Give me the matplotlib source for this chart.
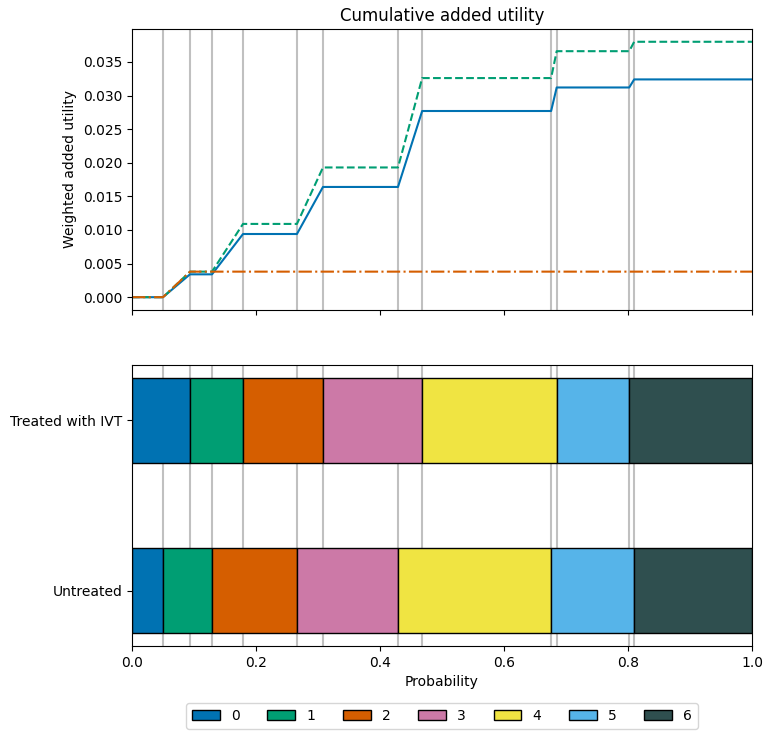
import numpy as np
import matplotlib
matplotlib.use('Agg')
import matplotlib.pyplot as plt
from matplotlib.patches import Patch

# bands
bands = ['0', '1', '2', '3', '4', '5', '6']
colours = ['#0072B2', '#009E73', '#D55E00', '#CC79A7', '#F0E442', '#56B4E9', '#2F4F4F']
rows = ['Untreated', 'Treated with IVT']
prop_untreated = [0.050, 0.079, 0.137, 0.163, 0.247, 0.134, 0.190]
prop_treated = [0.0935, 0.0855, 0.129, 0.160, 0.217, 0.117, 0.198]

# cumulative added utility at each boundary
x_points = [0, 0.050, 0.0935, 0.129, 0.179, 0.266, 0.308, 0.429, 0.468, 0.676, 0.685, 0.802, 0.810, 1.0]
util_blue = [0, 0, 0.0034, 0.0034, 0.0094, 0.0094, 0.0164, 0.0164, 0.0277, 0.0277, 0.0312, 0.0312, 0.0324, 0.0324]
util_green = [0, 0, 0.0038, 0.0038, 0.0109, 0.0109, 0.0193, 0.0193, 0.0326, 0.0326, 0.0366, 0.0366, 0.0380, 0.0380]
util_orange = [0, 0, 0.0038, 0.0038, 0.0038, 0.0038, 0.0038, 0.0038, 0.0038, 0.0038, 0.0038, 0.0038, 0.0038, 0.0038]

fig, (ax1, ax2) = plt.subplots(2, 1, figsize=(7.73, 7.38), dpi=100, sharex=True)
fig.subplots_adjust(left=0.1708, right=0.9728, top=0.9607, bottom=0.1247, hspace=0.196)

cum_u = np.cumsum(prop_untreated)[:-1]
cum_t = np.cumsum(prop_treated)[:-1]
for x in np.concatenate([cum_u, cum_t]):
    ax1.axvline(x, color='silver', lw=1.5, zorder=0)
    ax2.axvline(x, color='silver', lw=1.5, zorder=0)

ax1.plot(x_points, util_blue, color='#0072B2', lw=1.5)
ax1.plot(x_points, util_green, color='#009E73', lw=1.5, ls='--')
ax1.plot(x_points, util_orange, color='#D55E00', lw=1.5, ls='-.')
ax1.set_ylabel('Weighted added utility')
ax1.set_title('Cumulative added utility')
ax1.set_xlim(0, 1)
ax1.set_ylim(-0.0019, 0.0399)

for i, props in enumerate([prop_untreated, prop_treated]):
    left = 0
    for p, c in zip(props, colours):
        ax2.barh(i, p, left=left, height=0.5, color=c, edgecolor='k', zorder=2)
        left += p
ax2.set_yticks([0, 1])
ax2.set_yticklabels(rows)
ax2.set_xlabel('Probability')
ax2.set_xlim(0, 1)

handles = [Patch(facecolor=c, edgecolor='k', label=b) for b, c in zip(bands, colours)]
ax2.legend(handles=handles, loc='upper center', bbox_to_anchor=(0.5, -0.18), ncol=7)

plt.savefig('out.png')
